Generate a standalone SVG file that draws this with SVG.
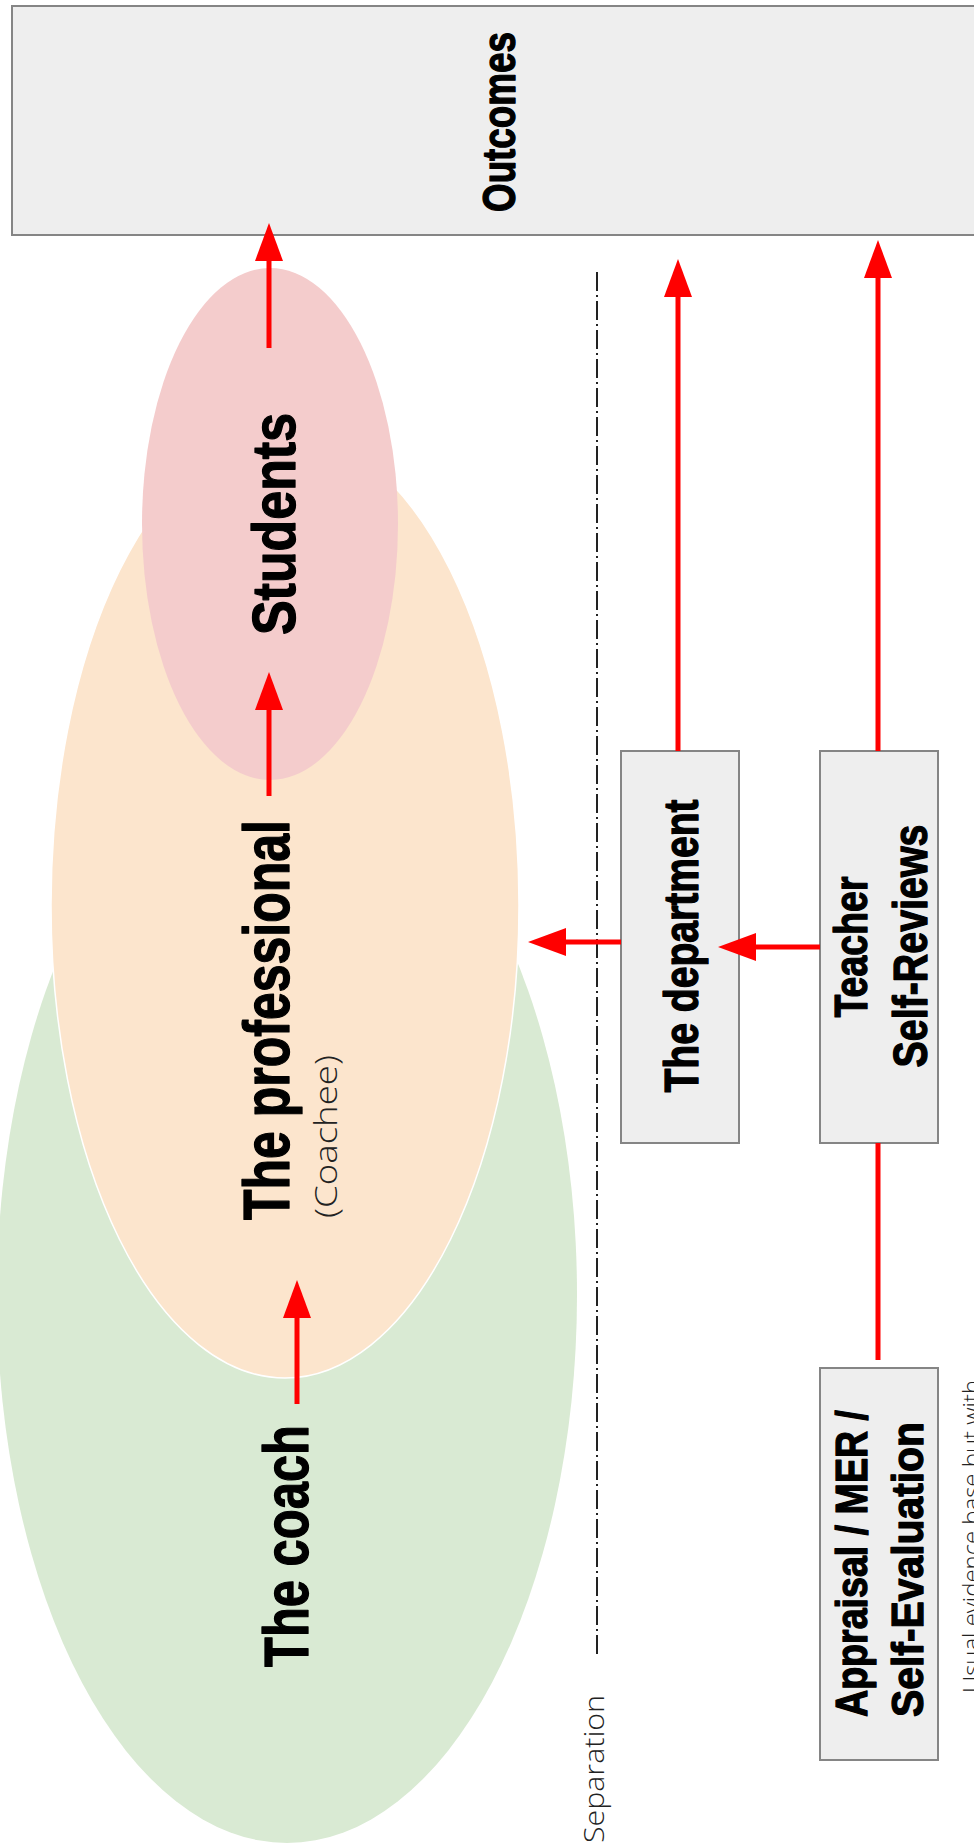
<svg xmlns="http://www.w3.org/2000/svg" width="974" height="1845" viewBox="0 0 974 1845">
<style>
.bold{font-family:"Liberation Sans",Arial,sans-serif;font-weight:700;fill:#000;stroke:#000;stroke-width:1.3;stroke-linejoin:round}
.light{font-family:"Open Sans","Liberation Sans",sans-serif;font-weight:300;fill:#222}
.box{fill:#eeeeee;stroke:#858585;stroke-width:2}
.arrow{stroke:#ff0000;stroke-width:5;fill:none}
</style>
<defs>
<marker id="ah" markerUnits="userSpaceOnUse" markerWidth="38" markerHeight="28" refX="0" refY="14" orient="auto">
<path d="M0,0 L38,14 L0,28 z" fill="#ff0000"/>
</marker>
</defs>
<rect width="974" height="1845" fill="#ffffff"/>
<g id="coach">
<ellipse cx="287" cy="1295" rx="290" ry="548" fill="#d9ead3"/>
<text class="bold" font-size="63" transform="translate(308,1546) rotate(-90)" text-anchor="middle" textLength="242" lengthAdjust="spacingAndGlyphs">The coach</text>
</g>
<g id="professional">
<ellipse cx="285" cy="905" rx="234" ry="473" fill="#fce5cd" stroke="#ffffff" stroke-width="1.5"/>
<text class="bold" font-size="64" transform="translate(289,1020) rotate(-90)" text-anchor="middle" textLength="400" lengthAdjust="spacingAndGlyphs">The professional</text>
<text class="light" font-size="31" transform="translate(337,1218) rotate(-90)" text-anchor="start" textLength="163" lengthAdjust="spacingAndGlyphs">(Coachee)</text>
</g>
<g id="students">
<ellipse cx="270" cy="524" rx="128" ry="256" fill="#f4cccc"/>
<text class="bold" font-size="62" transform="translate(295,524) rotate(-90)" text-anchor="middle" textLength="222" lengthAdjust="spacingAndGlyphs">Students</text>
</g>
<g id="outcomes">
<rect class="box" x="12" y="6" width="972" height="229" stroke="#7a7a7a" stroke-width="2.5"/>
<text class="bold" font-size="46" transform="translate(515,122) rotate(-90)" text-anchor="middle" textLength="180" lengthAdjust="spacingAndGlyphs">Outcomes</text>
</g>
<g id="separation">
<line x1="597" y1="272" x2="597" y2="1658" stroke="#222" stroke-width="2" stroke-dasharray="19,4,2,4"/>
<text class="light" font-size="27" transform="translate(604,1843) rotate(-90)" text-anchor="start" textLength="148" lengthAdjust="spacingAndGlyphs">Separation</text>
</g>
<g id="department">
<rect class="box" x="621" y="751" width="118" height="392"/>
<text class="bold" font-size="48" transform="translate(698,946) rotate(-90)" text-anchor="middle" textLength="293" lengthAdjust="spacingAndGlyphs">The department</text>
</g>
<g id="teacher">
<rect class="box" x="820" y="751" width="118" height="392"/>
<text class="bold" font-size="47" transform="translate(867,947) rotate(-90)" text-anchor="middle" textLength="141" lengthAdjust="spacingAndGlyphs">Teacher</text>
<text class="bold" font-size="48" transform="translate(927,946) rotate(-90)" text-anchor="middle" textLength="243" lengthAdjust="spacingAndGlyphs">Self-Reviews</text>
</g>
<g id="appraisal">
<rect class="box" x="820" y="1368" width="118" height="392"/>
<text class="bold" font-size="45" transform="translate(867,1717) rotate(-90)" text-anchor="start" textLength="307" lengthAdjust="spacingAndGlyphs">Appraisal / MER /</text>
<text class="bold" font-size="45" transform="translate(923,1717) rotate(-90)" text-anchor="start" textLength="295" lengthAdjust="spacingAndGlyphs">Self-Evaluation</text>
</g>
<g id="note">
<text class="light" font-size="24" transform="translate(980,1693) rotate(-90)" text-anchor="start" textLength="313" lengthAdjust="spacingAndGlyphs">Usual evidence base but with</text>
</g>
<g id="connectors">
<line class="arrow" x1="269" y1="348" x2="269" y2="261" marker-end="url(#ah)"/>
<line class="arrow" x1="269" y1="796" x2="269" y2="710" marker-end="url(#ah)"/>
<line class="arrow" x1="297" y1="1404" x2="297" y2="1318" marker-end="url(#ah)"/>
<line class="arrow" x1="621" y1="942" x2="566" y2="942" marker-end="url(#ah)"/>
<line class="arrow" x1="820" y1="947" x2="756" y2="947" marker-end="url(#ah)"/>
<line class="arrow" x1="678" y1="751" x2="678" y2="297" marker-end="url(#ah)"/>
<line class="arrow" x1="878" y1="751" x2="878" y2="278" marker-end="url(#ah)"/>
<line class="arrow" x1="878" y1="1143" x2="878" y2="1360"/>
</g>
</svg>
